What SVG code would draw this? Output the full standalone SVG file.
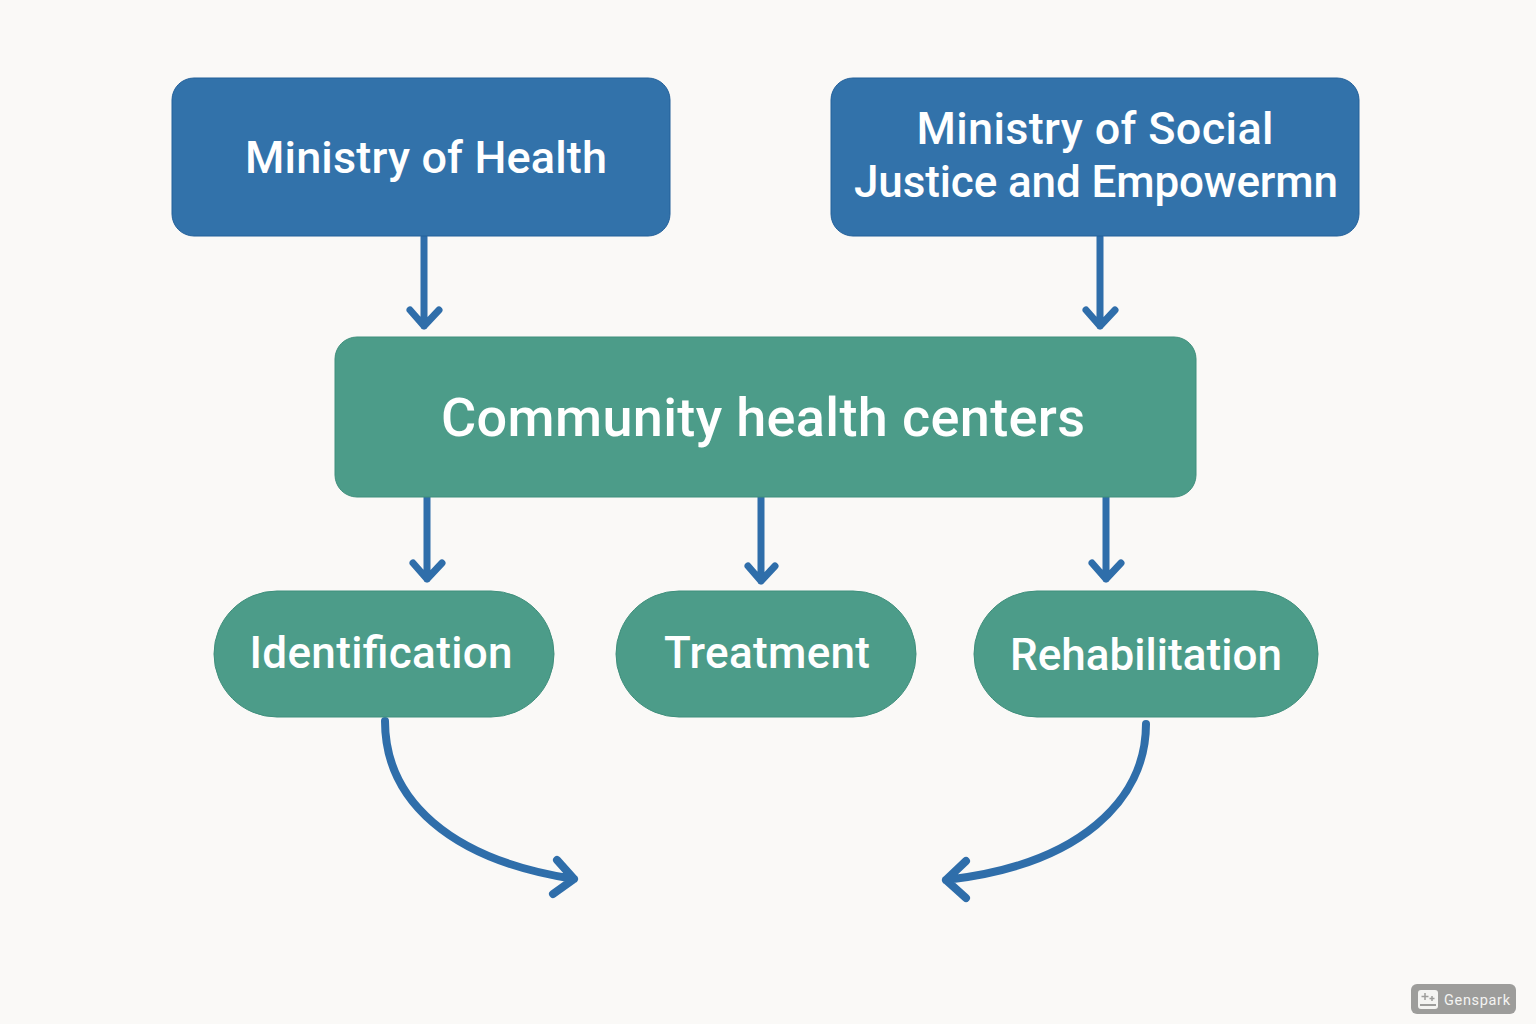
<svg xmlns="http://www.w3.org/2000/svg" width="1536" height="1024" viewBox="0 0 1536 1024">
<style>
.blue{fill:#3272aa;stroke:#22609a;stroke-width:1}
.green{fill:#4c9c89;stroke:#3f8f7c;stroke-width:1}
.t{font-family:Roboto,"Liberation Sans",sans-serif;font-weight:500;fill:#fff;text-anchor:middle}
.c{fill:none;stroke:#2f6eaa;stroke-width:7;stroke-linecap:round;stroke-linejoin:round}
.curve{stroke-width:8}
</style>
<rect width="1536" height="1024" fill="#faf9f7"/>
<g id="connectors" class="c">
<path d="M424 237V326M410 310L424 326L439 310"/>
<path d="M1100 237V326M1086 310L1100 326L1115 310"/>
<path d="M427 497V579M413 563L427 579L442 563"/>
<path d="M761 497V581M748 566L761 581L775 566"/>
<path d="M1106 497V579M1092 563L1106 579L1121 563"/>
<path class="curve" d="M385 721C385 800 450 860 574 879M557 860L574 879L553 894"/>
<path class="curve" d="M1146 724C1146 800 1080 865 946 880M966 861L946 880L966 898"/>
</g>
<g id="ministry-health"><rect class="blue" x="172" y="78" width="498" height="158" rx="22"/><text class="t" x="426" y="173" font-size="45" textLength="362" lengthAdjust="spacing">Ministry of Health</text></g>
<g id="ministry-social"><rect class="blue" x="831" y="78" width="528" height="158" rx="22"/><text class="t" x="1095" y="144" font-size="45" textLength="357" lengthAdjust="spacing">Ministry of Social</text><text class="t" x="1096" y="197" font-size="44" textLength="484" lengthAdjust="spacing">Justice and Empowermn</text></g>
<g id="community"><rect class="green" x="335" y="337" width="861" height="160" rx="22"/><text class="t" x="763" y="436" font-size="54" textLength="644" lengthAdjust="spacing">Community health centers</text></g>
<g id="identification"><rect class="green" x="214" y="591" width="340" height="126" rx="63"/><text class="t" x="381" y="668" font-size="44" textLength="263" lengthAdjust="spacing">Identification</text></g>
<g id="treatment"><rect class="green" x="616" y="591" width="300" height="126" rx="63"/><text class="t" x="767" y="668" font-size="44" textLength="206" lengthAdjust="spacing">Treatment</text></g>
<g id="rehabilitation"><rect class="green" x="974" y="591" width="344" height="126" rx="63"/><text class="t" x="1146" y="670" font-size="44" textLength="272" lengthAdjust="spacing">Rehabilitation</text></g>
<g id="watermark"><rect x="1411" y="984" width="105" height="30" rx="6" fill="#9d9d9b"/><rect x="1418" y="990" width="20" height="19" rx="3" fill="#f4f4f2"/><path d="M1425 993v7M1421.500 996.500h7M1432 996v5M1429.500 998.500h5" stroke="#9d9d9b" stroke-width="1.500" fill="none"/><rect x="1420" y="1004" width="16" height="2" fill="#9d9d9b"/><text x="1444" y="1005" font-family="Roboto,sans-serif" font-size="14.500" fill="#f4f4f2" textLength="66" lengthAdjust="spacing">Genspark</text></g>
</svg>
